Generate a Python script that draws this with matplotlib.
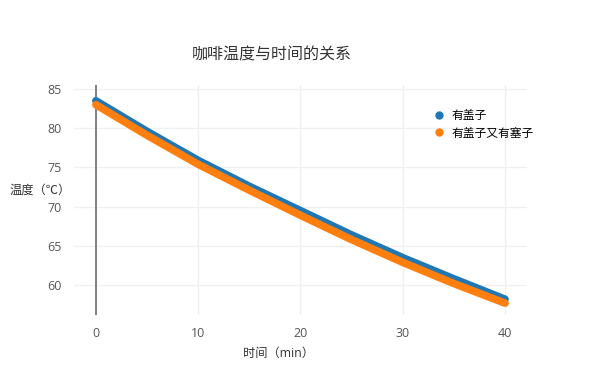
import numpy as np
import matplotlib
matplotlib.use('Agg')
import matplotlib.pyplot as plt
from matplotlib.lines import Line2D

plt.rcParams['font.family'] = ['Open Sans', 'Noto Sans CJK SC', 'DejaVu Sans']

# minutes
t = [0, 5, 10, 15, 20, 25, 30, 35, 40]
# temperatures
lid = [83.5, 79.6, 75.9, 72.6, 69.5, 66.4, 63.5, 60.8, 58.2]
lid_plug = [83.0, 79.1, 75.4, 72.1, 68.9, 65.8, 62.9, 60.2, 57.7]

title = '咖啡温度与时间的关系'
xlab = '时间（min）'
ylab = '温度（℃）'
names = ['有盖子', '有盖子又有塞子']
xticks = [0, 10, 20, 30, 40]
yticks = [60, 65, 70, 75, 80, 85]

fig = plt.figure(figsize=(6, 3.85), dpi=100)
ax = fig.add_axes([0.124, 0.182, 0.7535, 0.597])

ax.plot(t, lid, color='#1f77b4', lw=5.5, solid_capstyle='round', label=names[0], zorder=3)
ax.plot(t, lid_plug, color='#ff7f0e', lw=5.5, solid_capstyle='round', label=names[1], zorder=4)

ax.set_xlim(-2.1, 42.1)
ax.set_ylim(56.2, 85.5)
ax.set_xticks(xticks)
ax.set_yticks(yticks)
ax.grid(color='#f0f0f0', lw=1)
ax.set_axisbelow(True)
for s in ax.spines.values():
    s.set_visible(False)
ax.axvline(0, color='#777777', lw=1.3, zorder=2)
ax.tick_params(length=0, labelsize=9, labelcolor='#555555', pad=9)

fig.text(272/600, 1-55/385, title, ha='center', va='center', fontsize=11.5, color='#333333')
fig.text(278/600, 1-353/385, xlab, ha='center', va='center', fontsize=8.8, color='#333333')
fig.text(10/600, 1-190/385, ylab, ha='left', va='center', fontsize=8.8, color='#333333')

# legend
hs = [Line2D([], [], ls='none', marker='o', ms=5, color=c) for c in ['#1f77b4', '#ff7f0e']]
fig.legend(hs, names, loc='upper left', bbox_to_anchor=(428/600, 1-103/385), frameon=False,
           fontsize=8.5, handlelength=0.8, handletextpad=0.7, labelspacing=0.4, borderpad=0)

fig.savefig('out.png', dpi=100)
